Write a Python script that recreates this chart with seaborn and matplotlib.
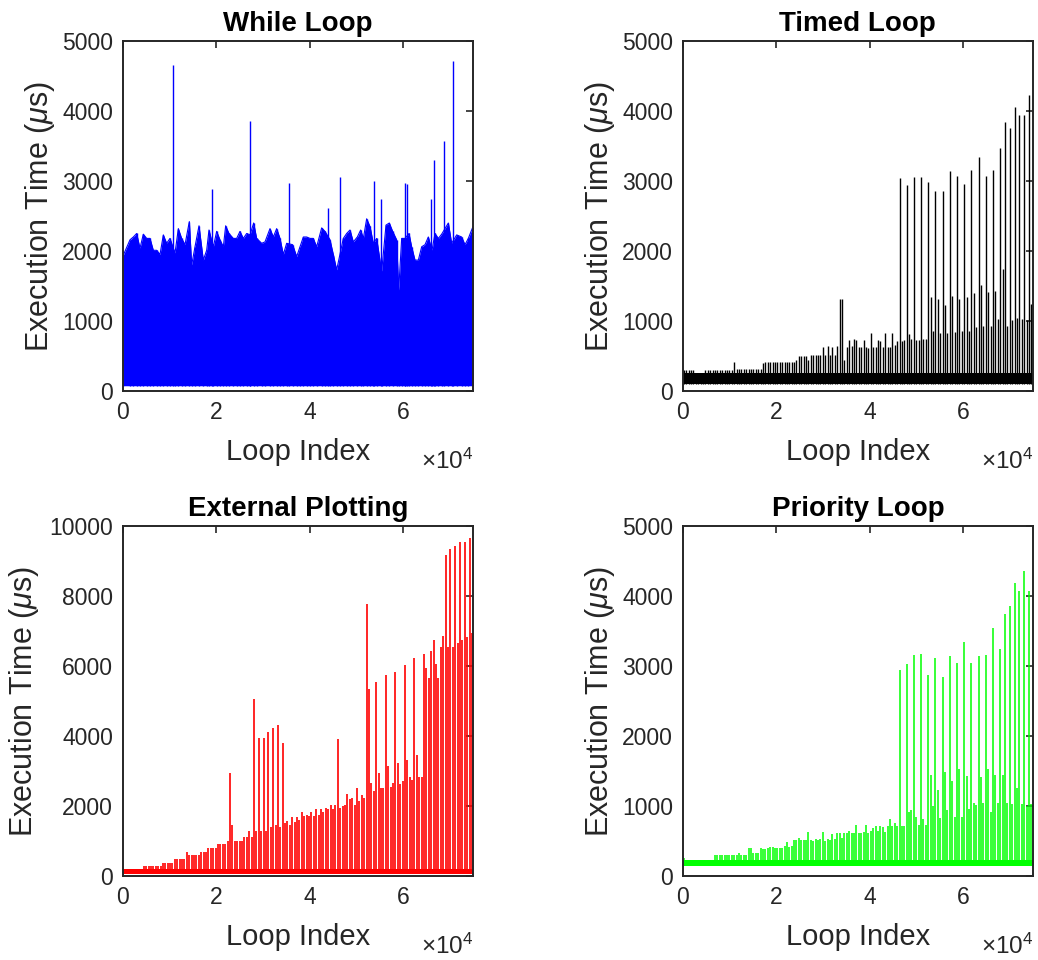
import numpy as np
import matplotlib
matplotlib.use("Agg")
import matplotlib.pyplot as plt
import seaborn as sns

# ---------------------------------------------------------------------------
# Data (execution time in microseconds per loop iteration)
# ---------------------------------------------------------------------------
N_LOOPS = 75000
BURST_PERIOD = 513          # a background burst every 513 iterations

# While loop: upper edge of the dense jitter band, plus isolated spikes
while_env_idx = [0, 1563, 2277, 2990, 3704, 4418, 5131, 5845, 6559, 7272, 7986,
                 8700, 9413, 10127, 11198, 11911, 12625, 13339, 14267, 14766,
                 15480, 16336, 17264, 17978, 18477, 19405, 20119, 20832, 21546,
                 22046, 22759, 23687, 24401, 25114, 25828, 26542, 27255, 28040,
                 28683, 29753, 30467, 31538, 32251, 32965, 33679, 34392, 35106,
                 36391, 37247, 37961, 38675, 39388, 40102, 40816, 41529, 42600,
                 43314, 44384, 45098, 45812, 47239, 47953, 48667, 49380, 50237,
                 50950, 51521, 52235, 52949, 53662, 54376, 55447, 56374, 57088,
                 57802, 58658, 59086, 59729, 60442, 61299, 61870, 62583, 63297,
                 64011, 64724, 65438, 66223, 66865, 67579, 68292, 69720, 70433,
                 71504, 72574, 73288, 74002, 75000]
while_env_top = [1920, 2160, 2200, 2250, 2040, 2240, 2180, 2180, 2010, 2010, 1950,
                 2230, 2110, 2180, 1970, 2320, 2180, 2090, 2420, 1800,
                 2060, 2360, 1870, 2010, 2300, 2060, 2280, 2160, 2060,
                 2360, 2250, 2180, 2180, 2280, 2180, 2250, 2230, 2400,
                 2180, 2110, 2130, 2320, 2200, 2320, 2180, 1950, 2110,
                 2090, 1920, 2060, 2200, 2200, 2180, 2180, 2060, 2330,
                 2280, 2160, 1950, 1730, 2180, 2250, 2300, 2130, 2200,
                 2300, 2180, 2460, 2350, 2110, 2180, 1710, 2370, 2400,
                 2280, 2160, 1440, 2180, 2180, 2250, 2060, 1870, 1870,
                 2060, 2090, 2200, 2010, 2250, 2180, 2240, 2400, 2110,
                 2230, 2200, 2090, 2180, 2350]
while_floor = 75
while_spike_idx = [10770, 19055, 27320, 35670, 43890, 46525, 53800, 55240,
                   60375, 60870, 66080, 66580, 68730, 70720]
while_spike_us = [4657, 2890, 3857, 2971, 2610, 3062, 2995, 2738,
                  2971, 2957, 2738, 3300, 3576, 4714]

# Timed loop: per-burst peak times, steady band underneath
timed_first = 250
timed_band = (95, 255)
timed_burst_us = [
    300, 300, 300, 300, 300, 250, 250, 250, 250, 300, 300, 300, 300, 300, 300,
    300, 300, 300, 300, 300, 300, 410, 310, 310, 310, 310, 310, 310, 310, 310,
    310, 310, 310, 400, 420, 420, 420, 420, 420, 420, 420, 420, 420, 420, 420,
    420, 420, 440, 500, 500, 500, 500, 443, 514, 514, 514, 514, 514, 633, 514,
    643, 514, 624, 514, 643, 1310, 1310, 443, 633, 729, 643, 738, 729, 624, 624,
    729, 624, 614, 824, 624, 624, 729, 719, 624, 833, 624, 633, 833, 652, 719,
    3038, 710, 729, 2943, 814, 738, 3062, 729, 729, 3057, 738, 738, 2981, 1348, 857,
    2862, 1310, 833, 2852, 1229, 833, 3148, 1357, 840, 3071, 1319, 857, 2957, 1338, 857,
    3157, 1405, 919, 3348, 1519, 929, 3071, 1414, 929, 3157, 1429, 1024, 3471, 1738,
    3848, 929, 3762, 1014, 4052, 1038, 3948, 1029, 3948, 1014, 4229, 1245]

# External plotting
plot_first = 400
plot_band = (60, 200)
plot_burst_us = [
    200, 200, 200, 200, 200, 200, 200, 200, 290, 290, 290, 290, 290, 290, 290,
    290, 380, 380, 380, 380, 380, 500, 500, 500, 500, 500, 695, 600, 600, 600,
    600, 600, 700, 700, 700, 800, 800, 800, 800, 905, 905, 905, 905, 1000, 2950,
    1450, 1010, 1010, 1010, 1010, 1105, 1105, 1295, 1124, 5048, 1276, 3950, 1276,
    3950, 1295, 4124, 1390, 4219, 1467, 4314, 1390, 3810, 1505, 1581, 1467, 1676,
    1550, 1700, 1600, 1829, 1714, 1733, 1714, 1829, 1714, 1905, 1733, 1905, 1829,
    1933, 1905, 2019, 1924, 2029, 3924, 1933, 2010, 2019, 2333, 2210, 2219, 2038,
    2505, 2143, 2305, 2229, 7771, 5330, 2648, 2419, 5543, 2933, 2524, 2524, 5752,
    3143, 2533, 2648, 5829, 3219, 2629, 2724, 6038, 3314, 2819, 2743, 6238, 3448,
    2819, 2819, 6333, 5934, 5657, 6438, 6743, 6048, 5667, 6533, 6848, 9171, 6533,
    9343, 6552, 9429, 6667, 9552, 6743, 9552, 6838, 9648, 6952]

# Priority loop
prio_first = 250
prio_band = (140, 235)
prio_burst_us = [
    260, 230, 230, 230, 230, 230, 230, 230, 230, 230, 230, 230, 230, 295, 295,
    295, 295, 295, 305, 305, 305, 305, 305, 333, 305, 305, 305, 395, 400, 324,
    324, 324, 405, 390, 386, 405, 410, 410, 400, 400, 400, 400, 429, 486, 410,
    433, 514, 514, 538, 514, 514, 514, 629, 514, 505, 524, 514, 524, 629, 505,
    524, 514, 600, 524, 610, 610, 543, 610, 619, 638, 619, 619, 724, 610, 610,
    633, 733, 619, 638, 686, 714, 638, 714, 705, 629, 714, 819, 714, 762, 714,
    2938, 714, 714, 3033, 919, 943, 3152, 848, 733, 3167, 819, 724, 2867, 1438, 1000,
    3110, 1229, 824, 2848, 1490, 943, 3138, 1357, 838, 3043, 1524, 838, 3348, 1429,
    952, 3043, 1048, 1014, 3138, 1419, 1038, 3152, 1533, 914, 3538, 1438, 1038,
    3243, 1448, 3743, 1048, 3857, 1029, 4190, 1252, 4071, 1029, 4357, 1000, 4071, 1029]

# ---------------------------------------------------------------------------
# Style
# ---------------------------------------------------------------------------
sns.set_theme(style="white")
plt.rcParams["font.family"] = ["Liberation Sans", "DejaVu Sans"]
plt.rcParams["mathtext.fontset"] = "custom"
plt.rcParams["mathtext.rm"] = "Liberation Sans"
plt.rcParams["mathtext.it"] = "Liberation Sans:italic"
plt.rcParams["mathtext.bf"] = "Liberation Sans:bold"

AX_COLOR = "#262626"

fig = plt.figure(figsize=(10.38, 9.60), dpi=100)
W, H = 1038, 960


def add_axes(left_px, top_px, w_px=350.3, h_px=350.0):
    return fig.add_axes([left_px / W, 1 - (top_px + h_px) / H, w_px / W, h_px / H])


ax_while = add_axes(122.7, 41)
ax_timed = add_axes(682.7, 41)
ax_plot = add_axes(122.7, 526)
ax_prio = add_axes(682.7, 526)


def style_axes(ax, title, ymax, ystep):
    ax.set_xlim(0, N_LOOPS)
    ax.set_ylim(0, ymax)
    ax.set_xticks([0, 20000, 40000, 60000])
    ax.set_xticklabels(["0", "2", "4", "6"])
    ax.set_yticks(np.arange(0, ymax + 1, ystep))
    ax.set_yticklabels([str(int(v)) for v in np.arange(0, ymax + 1, ystep)])
    ax.tick_params(direction="in", top=True, right=True, length=5, width=1.2,
                   labelsize=16.5, colors=AX_COLOR, pad=7)
    for s in ax.spines.values():
        s.set_visible(True)
        s.set_color(AX_COLOR)
        s.set_linewidth(1.4)
    ax.set_title(title, fontsize=20, fontweight="bold", color="black", pad=7)
    ax.set_xlabel("Loop Index", fontsize=21, color=AX_COLOR)
    ax.xaxis.set_label_coords(0.5, -0.135)
    ax.set_ylabel(r"Execution Time ($\mu$s)", fontsize=22, color=AX_COLOR)
    ax.text(1.0, -0.222, r"$\times10^{4}$", transform=ax.transAxes,
            ha="right", va="baseline", fontsize=17.5, color=AX_COLOR)
    ax.grid(False)


def bursts(ax, first, values, band, color, lw):
    idx = first + BURST_PERIOD * np.arange(len(values))
    ax.fill_between([0, N_LOOPS], band[0], band[1], color=color, lw=0, zorder=1)
    ax.vlines(idx, band[0], values, colors=color, lw=lw, zorder=2)


# While loop
ax_while.fill_between(while_env_idx, while_floor, while_env_top,
                      color="#0000ff", lw=0, zorder=1)
sns.lineplot(x=while_env_idx, y=while_env_top, ax=ax_while, color="#0000ff",
             lw=0.8, zorder=2)
ax_while.vlines(while_env_idx, while_floor, while_env_top,
                colors="#0000ff", lw=1.0, zorder=2)
ax_while.vlines(while_spike_idx, while_floor, while_spike_us,
                colors="#0000ff", lw=1.0, zorder=2)
style_axes(ax_while, "While Loop", 5000, 1000)

# Timed loop
bursts(ax_timed, timed_first, timed_burst_us, timed_band, "black", 1.0)
style_axes(ax_timed, "Timed Loop", 5000, 1000)

# External plotting
bursts(ax_plot, plot_first, plot_burst_us, plot_band, "#ff0000", 1.2)
style_axes(ax_plot, "External Plotting", 10000, 2000)

# Priority loop
bursts(ax_prio, prio_first, prio_burst_us, prio_band, "#00ff00", 1.1)
style_axes(ax_prio, "Priority Loop", 5000, 1000)

for ax in (ax_while, ax_timed, ax_prio):
    ax.yaxis.set_label_coords(-0.188, 0.5)
ax_plot.yaxis.set_label_coords(-0.232, 0.5)

fig.savefig("out.png", dpi=100, facecolor="white")
